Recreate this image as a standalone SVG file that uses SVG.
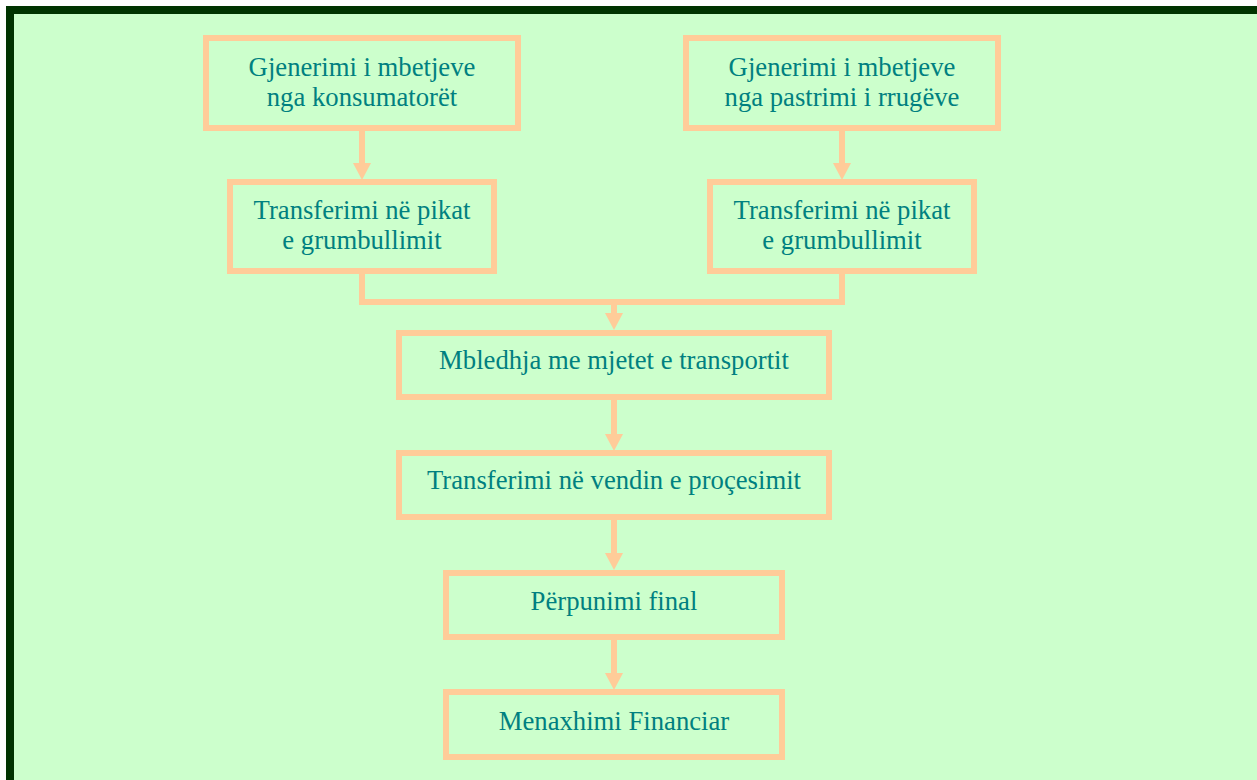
<svg xmlns="http://www.w3.org/2000/svg" width="1257" height="780" viewBox="0 0 1257 780">
<style>
.bg{fill:#CCFFCC;stroke:#003300;stroke-width:8}
.box{fill:none;stroke:#FFCC99;stroke-width:6}
.t{font-family:"Liberation Serif","Times New Roman",serif;font-size:26.7px;fill:#008080;text-anchor:middle}
.c{fill:none;stroke:#FFCC99;stroke-width:6}
</style>
<defs>
<marker id="ah" viewBox="0 -9 17 18" markerWidth="17" markerHeight="18" refX="0" refY="0" orient="auto" markerUnits="userSpaceOnUse">
<path d="M0,-9 L17,0 L0,9 Z" fill="#FFCC99"/>
</marker>
</defs>
<rect x="0" y="0" width="1257" height="780" fill="#ffffff"/>
<rect class="bg" x="10" y="10" width="1300" height="800"/>
<g id="connectors">
<path class="c" d="M362,131 V163" marker-end="url(#ah)"/>
<path class="c" d="M842,131 V163" marker-end="url(#ah)"/>
<path class="c" d="M362,274 V302 H842 V274"/>
<path class="c" d="M614,302 V313" marker-end="url(#ah)"/>
<path class="c" d="M614,400 V434" marker-end="url(#ah)"/>
<path class="c" d="M614,520 V553" marker-end="url(#ah)"/>
<path class="c" d="M614,640 V673" marker-end="url(#ah)"/>
</g>
<g id="n1">
<rect class="box" x="206" y="38" width="312" height="90"/>
<text class="t" x="362" y="76">Gjenerimi i mbetjeve</text>
<text class="t" x="362" y="106">nga konsumatorët</text>
</g>
<g id="n2">
<rect class="box" x="686" y="38" width="312" height="90"/>
<text class="t" x="842" y="76">Gjenerimi i mbetjeve</text>
<text class="t" x="842" y="106">nga pastrimi i rrugëve</text>
</g>
<g id="n3">
<rect class="box" x="230" y="182" width="264" height="89"/>
<text class="t" x="362" y="219">Transferimi në pikat</text>
<text class="t" x="362" y="249">e grumbullimit</text>
</g>
<g id="n4">
<rect class="box" x="710" y="182" width="264" height="89"/>
<text class="t" x="842" y="219">Transferimi në pikat</text>
<text class="t" x="842" y="249">e grumbullimit</text>
</g>
<g id="n5">
<rect class="box" x="399" y="333" width="430" height="64"/>
<text class="t" x="614" y="369">Mbledhja me mjetet e transportit</text>
</g>
<g id="n6">
<rect class="box" x="399" y="453" width="430" height="64"/>
<text class="t" x="614" y="489">Transferimi në vendin e proçesimit</text>
</g>
<g id="n7">
<rect class="box" x="446" y="573" width="336" height="64"/>
<text class="t" x="614" y="610">Përpunimi final</text>
</g>
<g id="n8">
<rect class="box" x="446" y="692" width="336" height="65"/>
<text class="t" x="614" y="730">Menaxhimi Financiar</text>
</g>
</svg>
